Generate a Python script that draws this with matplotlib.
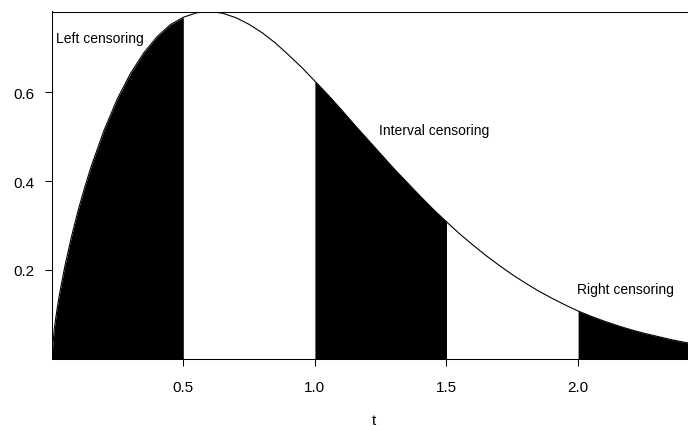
import matplotlib
matplotlib.use("Agg")
import matplotlib.pyplot as plt
import numpy as np

# Density of the event time t, read at a grid of time points
t_grid = [0.0, 0.01, 0.02, 0.03, 0.05, 0.075, 0.1, 0.125, 0.15, 0.2, 0.25,
          0.3, 0.35, 0.4, 0.45, 0.5, 0.55, 0.6, 0.65, 0.7, 0.75, 0.8, 0.85,
          0.9, 0.95, 1.0, 1.05, 1.1, 1.15, 1.2, 1.25, 1.3, 1.35, 1.4, 1.45,
          1.5, 1.55, 1.6, 1.65, 1.7, 1.75, 1.8, 1.85, 1.9, 1.95, 2.0, 2.05,
          2.1, 2.15, 2.2, 2.25, 2.3, 2.35, 2.4, 2.45]
density = [0.0, 0.068, 0.110, 0.146, 0.208, 0.274, 0.333, 0.385, 0.433,
           0.516, 0.586, 0.643, 0.689, 0.725, 0.752, 0.769, 0.779, 0.782,
           0.778, 0.768, 0.753, 0.734, 0.711, 0.684, 0.656, 0.625, 0.594,
           0.561, 0.527, 0.494, 0.461, 0.428, 0.397, 0.366, 0.336, 0.308,
           0.281, 0.256, 0.232, 0.210, 0.189, 0.170, 0.152, 0.136, 0.121,
           0.107, 0.095, 0.084, 0.074, 0.065, 0.057, 0.050, 0.043, 0.037,
           0.032]

# Shaded censoring regions (start, end) on the time axis
shaded_regions = [(0.0, 0.5), (1.0, 1.5), (2.0, 2.45)]

x_ticks = [0.5, 1.0, 1.5, 2.0]
x_tick_labels = ["0.5", "1.0", "1.5", "2.0"]
y_ticks = [0.2, 0.4, 0.6]
y_tick_labels = ["0.2", "0.4", "0.6"]

annotations = [("Left censoring", 0.016, 0.722),
               ("Interval censoring", 1.245, 0.514),
               ("Right censoring", 1.995, 0.157)]

plt.rcParams["font.family"] = ["Liberation Sans", "DejaVu Sans"]

W, H = 688, 427
fig = plt.figure(figsize=(W / 100, H / 100), dpi=100)
left_px, right_px, top_px, bottom_px = 51.7, 696.0, 12.5, 359.5
ax = fig.add_axes([left_px / W, 1 - bottom_px / H,
                   (right_px - left_px) / W, (bottom_px - top_px) / H])

t = np.array(t_grid)
f = np.array(density)

for a, b in shaded_regions:
    mask = (t >= a - 1e-9) & (t <= b + 1e-9)
    ax.fill_between(t, 0, f, where=mask, color="black", linewidth=0)

ax.plot(t, f, color="black", linewidth=0.8)

ax.set_xlim(0, 2.448)
ax.set_ylim(0, max(density))

ax.set_xticks(x_ticks)
ax.set_xticklabels(x_tick_labels)
ax.set_yticks(y_ticks)
ax.set_yticklabels(y_tick_labels)
ax.tick_params(axis="both", direction="out", length=4.8, width=0.75,
               labelsize=11, color="black")
ax.tick_params(axis="x", pad=10.5)
ax.tick_params(axis="y", pad=7.5)

for side in ("left", "top", "bottom"):
    ax.spines[side].set_linewidth(0.75)
    ax.spines[side].set_color("black")
ax.spines["right"].set_visible(False)

ax.set_xlabel("t", fontsize=11, labelpad=14)

for label, x, y in annotations:
    ax.text(x, y, label, fontsize=10, ha="left", va="center", color="black")

fig.savefig("out.png", dpi=100)
